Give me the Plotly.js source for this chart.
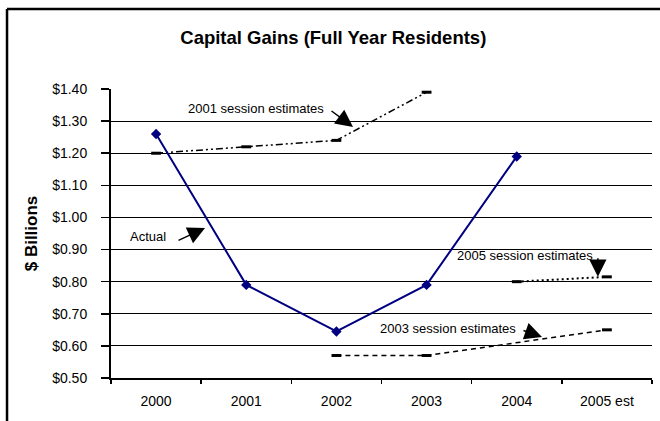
<!DOCTYPE html>
<html>
<head>
<meta charset="utf-8">
<script src="https://cdn.plot.ly/plotly-3.0.1.min.js"></script>
<style>html,body{margin:0;padding:0;background:#fff}#chart{width:660px;height:421px}</style>
</head>
<body>
<div id="chart"></div>
<script>
const years = ["2000", "2001", "2002", "2003", "2004", "2005 est"];
const actual = [1.26, 0.79, 0.645, 0.79, 1.19, null];
const session2001 = [1.20, 1.22, 1.24, 1.39, null, null];
const session2003 = [null, null, 0.57, 0.57, null, 0.65];
const session2005 = [null, null, null, null, 0.80, 0.815];
const yTicks = [0.5, 0.6, 0.7, 0.8, 0.9, 1.0, 1.1, 1.2, 1.3, 1.4];
const yTickText = ["$0.50", "$0.60", "$0.70", "$0.80", "$0.90", "$1.00", "$1.10", "$1.20", "$1.30", "$1.40"];

const estMarker = {symbol: 'line-ew-open', size: 7, color: '#000', line: {color: '#000', width: 3}};
const traces = [
  {x: years, y: session2001, type: 'scatter', mode: 'lines+markers', connectgaps: true,
   line: {color: '#000', width: 1.5, dash: '7px,3px,2px,3px,2px,3px'}, marker: estMarker, name: '2001 session estimates'},
  {x: years, y: session2003, type: 'scatter', mode: 'lines+markers', connectgaps: true,
   line: {color: '#000', width: 1.5, dash: '5px,4px'}, marker: estMarker, name: '2003 session estimates'},
  {x: years, y: session2005, type: 'scatter', mode: 'lines+markers', connectgaps: true,
   line: {color: '#000', width: 2, dash: '2px,3px'}, marker: estMarker, name: '2005 session estimates'},
  {x: years, y: actual, type: 'scatter', mode: 'lines+markers',
   line: {color: '#000080', width: 2}, marker: {symbol: 'diamond', size: 8, color: '#000080'}, name: 'Actual'}
];

const font = {family: 'Arial, "Liberation Sans", sans-serif', color: '#000'};
const annFont = Object.assign({}, font, {size: 13});
const arrow = {showarrow: true, arrowhead: 2, arrowsize: 2.3, arrowwidth: 1.5, arrowcolor: '#000', text: ''};

const layout = {
  width: 660, height: 421,
  margin: {l: 111, r: 8, t: 89, b: 43},
  paper_bgcolor: '#fff', plot_bgcolor: '#fff',
  showlegend: false,
  font: Object.assign({}, font, {size: 14}),
  title: {text: '<b>Capital Gains (Full Year Residents)</b>', font: Object.assign({}, font, {size: 18.5}),
          x: 0.505, xanchor: 'center', y: 0.91, yanchor: 'middle', xref: 'container', yref: 'container'},
  xaxis: {type: 'category', range: [-0.5, 5.5], showgrid: false, zeroline: false,
          showline: true, linecolor: '#000', linewidth: 2, ticks: 'outside', tickson: 'boundaries',
          ticklen: 4, tickcolor: '#000', tickwidth: 1.5, ticklabelstandoff: 9,
          tickfont: Object.assign({}, font, {size: 14})},
  yaxis: {range: [0.5, 1.4], tickvals: yTicks, ticktext: yTickText, showgrid: true, gridcolor: '#000',
          gridwidth: 1, zeroline: false, showline: true, linecolor: '#000', linewidth: 2,
          ticks: 'outside', ticklen: 8, tickcolor: '#000', tickwidth: 1.5, ticklabelstandoff: 11,
          tickfont: Object.assign({}, font, {size: 14}),
          title: {text: '<b>$ Billions</b>', font: Object.assign({}, font, {size: 17}), standoff: 10}},
  annotations: [
    {x: 1.11, y: 1.34, xref: 'x', yref: 'y', text: '2001 session estimates', showarrow: false, font: annFont},
    Object.assign({}, arrow, {x: 2.184, y: 1.282, ax: -23, ay: -17}),
    {x: -0.09, y: 0.94, xref: 'x', yref: 'y', text: 'Actual', showarrow: false, font: annFont},
    Object.assign({}, arrow, {x: 0.543, y: 0.967, ax: -28, ay: 13}),
    {x: 4.09, y: 0.883, xref: 'x', yref: 'y', text: '2005 session estimates', showarrow: false, font: annFont},
    Object.assign({}, arrow, {x: 4.90, y: 0.815, ax: 0, ay: -20}),
    {x: 3.24, y: 0.653, xref: 'x', yref: 'y', text: '2003 session estimates', showarrow: false, font: annFont},
    Object.assign({}, arrow, {x: 4.28, y: 0.628, ax: -20, ay: -7})
  ],
  shapes: [
    {type: 'line', xref: 'paper', yref: 'paper', x0: -0.1922, x1: -0.1922, y0: -0.3, y1: 1.2768,
     line: {color: '#000', width: 2.5}},
    {type: 'line', xref: 'paper', yref: 'paper', x0: -0.1922, x1: 1.1, y0: 1.2768, y1: 1.2768,
     line: {color: '#000', width: 2.5}}
  ]
};

Plotly.newPlot('chart', traces, layout, {displayModeBar: false, staticPlot: true});
</script>
</body>
</html>
